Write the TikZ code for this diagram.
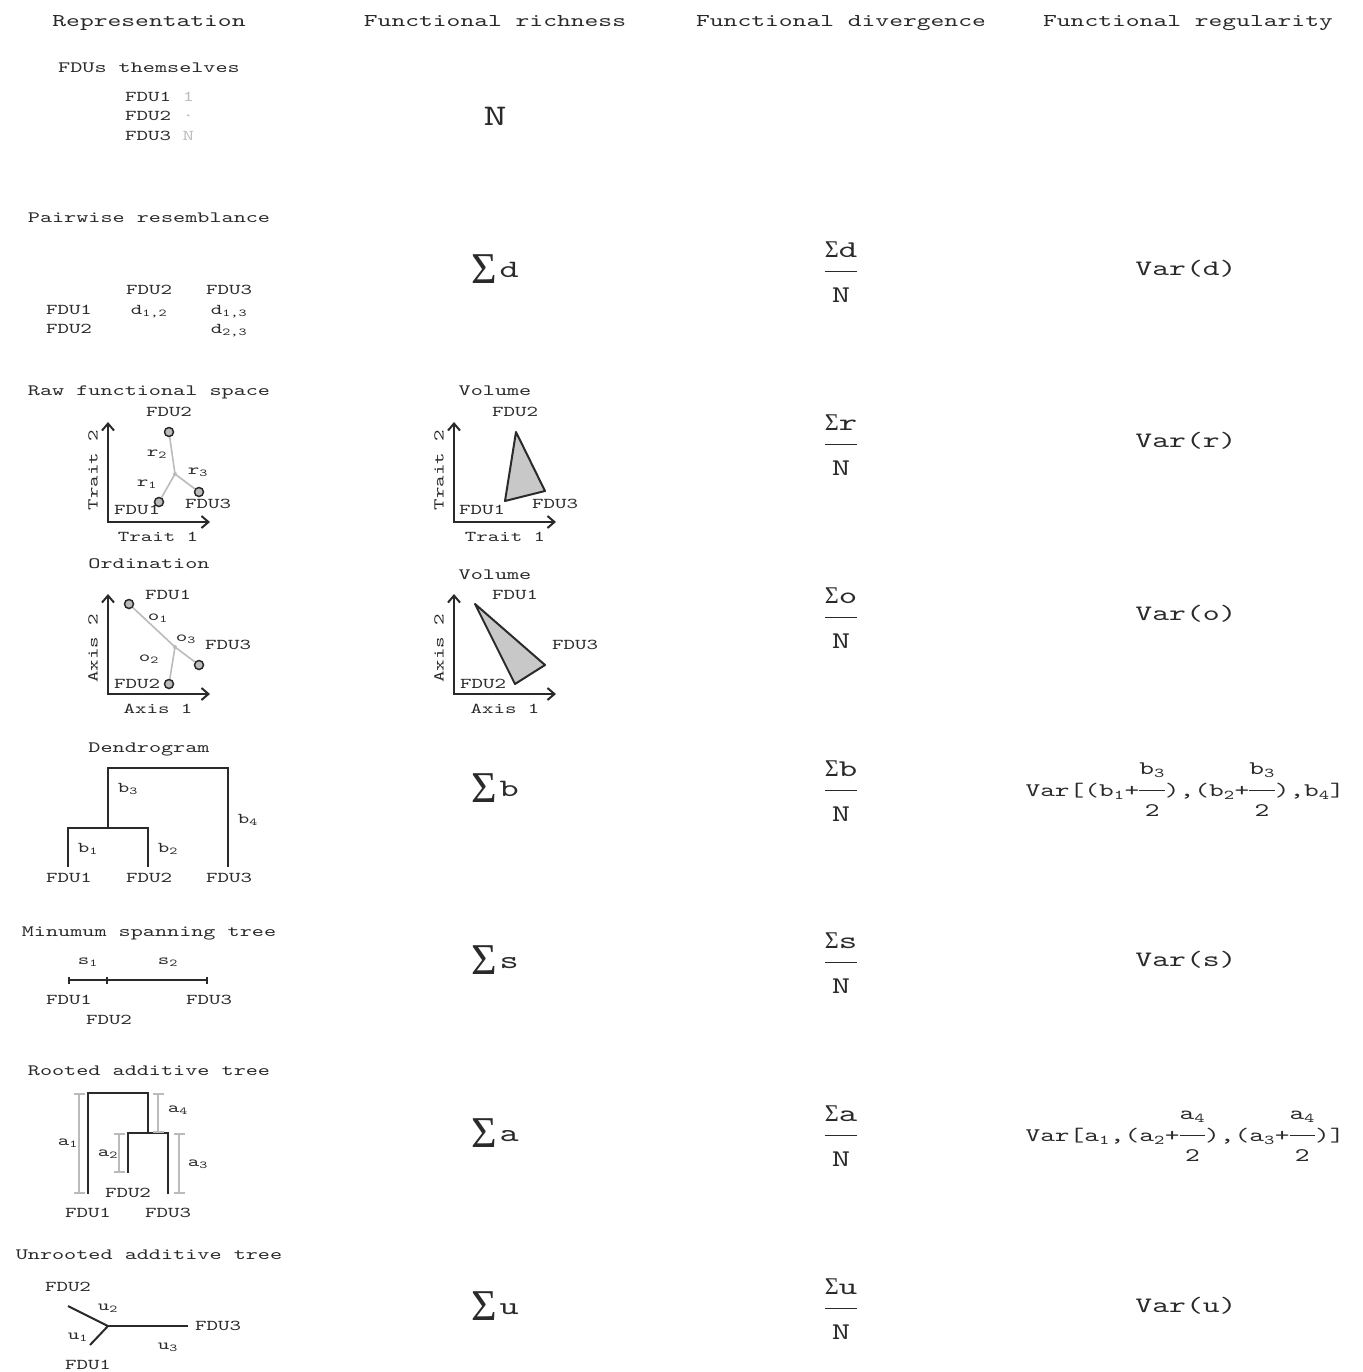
\documentclass[tikz,border=0pt]{standalone}
\usepackage{fontspec}
\setmainfont[FakeStretch=1.46]{lmmono10-regular.otf}
\newfontfamily\sgfont{Liberation Serif}
\usetikzlibrary{arrows.meta}
\definecolor{ink}{HTML}{2A2A2A}
\definecolor{lg}{HTML}{BBBBBB}
\definecolor{fillg}{HTML}{C8C8C8}
% fraction: #1 gap below numerator, #2 strut height of denominator, #3 numerator, #4 denominator
\newcommand\sfr[4]{\ensuremath{\vcenter{\hbox{\setlength{\arrayrulewidth}{1.6pt}\setlength{\tabcolsep}{0pt}\begin{tabular}{@{}c@{}}#3\\[#1]\hline\rule{0pt}{#2}#4\end{tabular}}}}}
\newcommand\Sg{{\sgfont Σ}}
\newcommand\Sbig{\raisebox{-6pt}{\fontsize{44}{44}\selectfont\sgfont Σ}\hspace{3pt}}
\newcommand\dv[1]{\sfr{5pt}{30pt}{\Sg#1}{N}}
\newcommand\hf[1]{\sfr{8pt}{25pt}{#1}{2}}
\begin{document}
\begin{tikzpicture}[x=1pt,y=-1pt,
  every node/.style={text=ink, inner sep=0pt},
  hdr/.style={font=\fontsize{18}{22}\selectfont, text height=11pt, text depth=0pt},
  ttl/.style={font=\fontsize{15.8}{19}\selectfont, text height=9.7pt, text depth=0pt},
  lab/.style={font=\fontsize{15}{18}\selectfont, text height=9.2pt, text depth=0pt},
  big/.style={font=\fontsize{22}{26}\selectfont, text height=13.4pt, text depth=0pt},
  sum/.style={font=\fontsize{25}{30}\selectfont, text height=15.3pt, text depth=0pt},
  frc/.style={font=\fontsize{24}{29}\selectfont},
  mid/.style={font=\fontsize{19.2}{23}\selectfont},
  axis/.style={line width=2pt, draw=ink, {Straight Barb[length=7pt,width=12pt]}-{Straight Barb[length=7pt,width=12pt]}},
  tree/.style={line width=2pt, draw=ink},
  gline/.style={line width=1.6pt, draw=lg},
  gbar/.style={line width=1.6pt, draw=lg, {Bar[width=11pt]}-{Bar[width=11pt]}},
  pt/.style={circle, draw=ink, fill=lg, line width=1.5pt, minimum size=9pt, inner sep=0pt},
  tri/.style={fill=fillg, draw=ink, line width=2pt, line join=round}
]
\useasboundingbox (0,0) rectangle (1362,1372);

% headers
\node[hdr] (h1) at (149,21) {Representation};
\node[hdr] (h2) at (495,21) {Functional richness};
\node[hdr] (h3) at (841,21) {Functional divergence};
\node[hdr] (h4) at (1188,21) {Functional regularity};

% Row 1
\node[ttl] (t1) at (149,68) {FDUs themselves};
\node[lab,anchor=west] (f1) at (125,97) {FDU1 \textcolor{lg}{1}};
\node[lab,anchor=west] (f2) at (125,116) {FDU2 \textcolor{lg}{·}};
\node[lab,anchor=west] (f3) at (125,136) {FDU3 \textcolor{lg}{N}};
\node[sum,font=\fontsize{30}{34}\selectfont, text height=18.3pt] (r1c2) at (495,116) {N};

% Row 2
\node[ttl] (t2) at (149,218) {Pairwise resemblance};
\node[lab] (pa) at (149,290) {FDU2};
\node[lab] (pb) at (229,290) {FDU3};
\node[lab] (pc) at (69,310) {FDU1};
\node[lab] (pd) at (69,329) {FDU2};
\node[lab] (d12) at (149,310) {d\textsubscript{1,2}};
\node[lab] (d13) at (229,310) {d\textsubscript{1,3}};
\node[lab] (d23) at (229,329) {d\textsubscript{2,3}};
\node[sum] (r2c2) at (495,270) {\Sbig d};
\node[frc] (r2c3) at (841,274) {\dv{d}};
\node[big] (r2c4) at (1186,269) {Var(d)};

% Row 3 raw space
\node[ttl] (t3) at (149,391) {Raw functional space};
\coordinate (a3o) at (108,522);
\coordinate (a3y) at (108,422);
\coordinate (a3x) at (210,522);
\draw[axis] (a3y) -- (a3o) -- (a3x);
\node[lab,rotate=90] (a3yl) at (93,470) {Trait 2};
\node[lab] (a3xl) at (158,537) {Trait 1};
\coordinate (j3) at (175,474);
\node[pt] (r3p2) at (169,432) {};
\node[pt] (r3p1) at (159,502) {};
\node[pt] (r3p3) at (199,492) {};
\draw[gline] (j3) -- (r3p2);
\draw[gline] (j3) -- (r3p1);
\draw[gline] (j3) -- (r3p3);
\fill[lg] (j3) circle (2pt);
\node[lab] (r3l2) at (169,412) {FDU2};
\node[lab] (r3l1) at (137,510) {FDU1};
\node[lab] (r3l3) at (208,504) {FDU3};
\node[lab] (rr2) at (157,452) {r\textsubscript{2}};
\node[lab] (rr1) at (147,482) {r\textsubscript{1}};
\node[lab] (rr3) at (198,470) {r\textsubscript{3}};

\node[ttl] (v3) at (495,391) {Volume};
\coordinate (b3o) at (454,522);
\coordinate (b3y) at (454,422);
\coordinate (b3x) at (556,522);
\draw[axis] (b3y) -- (b3o) -- (b3x);
\node[lab,rotate=90] (b3yl) at (439,470) {Trait 2};
\node[lab] (b3xl) at (505,537) {Trait 1};
\coordinate (tv2) at (516,432);
\coordinate (tv1) at (505,501);
\coordinate (tv3) at (545,491);
\draw[tri] (tv2) -- (tv3) -- (tv1) -- cycle;
\node[lab] (b3l2) at (515,412) {FDU2};
\node[lab] (b3l1) at (482,510) {FDU1};
\node[lab] (b3l3) at (555,504) {FDU3};
\node[frc] (r3c3) at (841,447) {\dv{r}};
\node[big] (r3c4) at (1186,441) {Var(r)};

% Row 4 ordination
\node[ttl] (t4) at (149,564) {Ordination};
\coordinate (a4o) at (108,694);
\coordinate (a4y) at (108,594);
\coordinate (a4x) at (210,694);
\draw[axis] (a4y) -- (a4o) -- (a4x);
\node[lab,rotate=90] (a4yl) at (93,648) {Axis 2};
\node[lab] (a4xl) at (158,709) {Axis 1};
\coordinate (j4) at (175,647);
\node[pt] (o4p1) at (129,604) {};
\node[pt] (o4p3) at (199,665) {};
\node[pt] (o4p2) at (169,684) {};
\draw[gline] (j4) -- (o4p1);
\draw[gline] (j4) -- (o4p3);
\draw[gline] (j4) -- (o4p2);
\fill[lg] (j4) circle (2pt);
\node[lab] (o4l1) at (168,595) {FDU1};
\node[lab] (o4l3) at (228,645) {FDU3};
\node[lab] (o4l2) at (137,684) {FDU2};
\node[lab] (oo1) at (158,616) {o\textsubscript{1}};
\node[lab] (oo3) at (186,637) {o\textsubscript{3}};
\node[lab] (oo2) at (149,657) {o\textsubscript{2}};

\node[ttl] (v4) at (495,575) {Volume};
\coordinate (b4o) at (454,694);
\coordinate (b4y) at (454,594);
\coordinate (b4x) at (556,694);
\draw[axis] (b4y) -- (b4o) -- (b4x);
\node[lab,rotate=90] (b4yl) at (439,648) {Axis 2};
\node[lab] (b4xl) at (505,709) {Axis 1};
\coordinate (ov1) at (475,604);
\coordinate (ov3) at (545,665);
\coordinate (ov2) at (515,684);
\draw[tri] (ov1) -- (ov3) -- (ov2) -- cycle;
\node[lab] (b4l1) at (515,595) {FDU1};
\node[lab] (b4l3) at (575,645) {FDU3};
\node[lab] (b4l2) at (483,684) {FDU2};
\node[frc] (r4c3) at (841,620) {\dv{o}};
\node[big] (r4c4) at (1186,614) {Var(o)};

% Row 5 dendrogram
\node[ttl] (t5) at (149,748) {Dendrogram};
\coordinate (dA) at (68,867);
\coordinate (dB) at (148,867);
\coordinate (dC) at (228,867);
\coordinate (dAB) at (108,828);
\coordinate (dTop) at (108,768);
\draw[tree] (dA) |- (dAB) -| (dB);
\draw[tree] (dAB) -- (dTop) -| (dC);
\node[lab] (bb3) at (128,788) {b\textsubscript{3}};
\node[lab] (bb1) at (88,848) {b\textsubscript{1}};
\node[lab] (bb2) at (168,848) {b\textsubscript{2}};
\node[lab] (bb4) at (248,819) {b\textsubscript{4}};
\node[lab] (dl1) at (69,878) {FDU1};
\node[lab] (dl2) at (149,878) {FDU2};
\node[lab] (dl3) at (229,878) {FDU3};
\node[sum] (r5c2) at (495,789) {\Sbig b};
\node[frc] (r5c3) at (841,793) {\dv{b}};
\node[mid] (r5c4) at (1185,791) {Var[(b\textsubscript{1}+\hf{b\textsubscript{3}}),(b\textsubscript{2}+\hf{b\textsubscript{3}}),b\textsubscript{4}]};

% Row 6 MST
\node[ttl] (t6) at (149,932) {Minumum spanning tree};
\coordinate (m1) at (68,980);
\coordinate (m2) at (108,980);
\coordinate (m3) at (208,980);
\draw[line width=1.6pt, draw=ink, {Bar[width=7pt]}-{Bar[width=7pt]}] (m1) -- (m2);
\draw[line width=1.6pt, draw=ink, -{Bar[width=7pt]}] (m2) -- (m3);
\node[lab] (ss1) at (88,960) {s\textsubscript{1}};
\node[lab] (ss2) at (168,960) {s\textsubscript{2}};
\node[lab] (ml1) at (69,1000) {FDU1};
\node[lab] (ml3) at (209,1000) {FDU3};
\node[lab] (ml2) at (109,1020) {FDU2};
\node[sum] (r6c2) at (495,961) {\Sbig s};
\node[frc] (r6c3) at (841,965) {\dv{s}};
\node[big] (r6c4) at (1186,960) {Var(s)};

% Row 7 rooted additive tree
\node[ttl] (t7) at (149,1071) {Rooted additive tree};
\coordinate (rA) at (88,1194);
\coordinate (rB) at (128,1173);
\coordinate (rC) at (168,1194);
\coordinate (rBC) at (148,1133);
\coordinate (rTop) at (148,1093);
\draw[tree] (rB) |- (rBC) -| (rC);
\draw[tree] (rBC) -- (rTop) -| (rA);
\draw[gbar] (79,1093) -- (79,1194);
\draw[gbar] (119,1133) -- (119,1173);
\draw[gbar] (158,1093) -- (158,1133);
\draw[gbar] (179,1133) -- (179,1194);
\node[lab] (aa1) at (68,1141) {a\textsubscript{1}};
\node[lab] (aa2) at (108,1152) {a\textsubscript{2}};
\node[lab] (aa4) at (178,1108) {a\textsubscript{4}};
\node[lab] (aa3) at (198,1162) {a\textsubscript{3}};
\node[lab] (rl2) at (128,1193) {FDU2};
\node[lab] (rl1) at (88,1213) {FDU1};
\node[lab] (rl3) at (168,1213) {FDU3};
\node[sum] (r7c2) at (495,1134) {\Sbig a};
\node[frc] (r7c3) at (841,1138) {\dv{a}};
\node[mid] (r7c4) at (1185,1136) {Var[a\textsubscript{1},(a\textsubscript{2}+\hf{a\textsubscript{4}}),(a\textsubscript{3}+\hf{a\textsubscript{4}})]};

% Row 8 unrooted
\node[ttl] (t8) at (149,1255) {Unrooted additive tree};
\coordinate (uj) at (108,1326);
\coordinate (u2e) at (68,1306);
\coordinate (u1e) at (90,1345);
\coordinate (u3e) at (188,1326);
\draw[tree, line join=miter] (u2e) -- (uj) -- (u1e);
\draw[tree] (uj) -- (u3e);
\node[lab] (ul2) at (68,1287) {FDU2};
\node[lab] (ul3) at (218,1326) {FDU3};
\node[lab] (ul1) at (88,1365) {FDU1};
\node[lab] (uu2) at (108,1306) {u\textsubscript{2}};
\node[lab] (uu1) at (78,1335) {u\textsubscript{1}};
\node[lab] (uu3) at (168,1345) {u\textsubscript{3}};
\node[sum] (r8c2) at (495,1307) {\Sbig u};
\node[frc] (r8c3) at (841,1311) {\dv{u}};
\node[big] (r8c4) at (1186,1306) {Var(u)};
\end{tikzpicture}
\end{document}
